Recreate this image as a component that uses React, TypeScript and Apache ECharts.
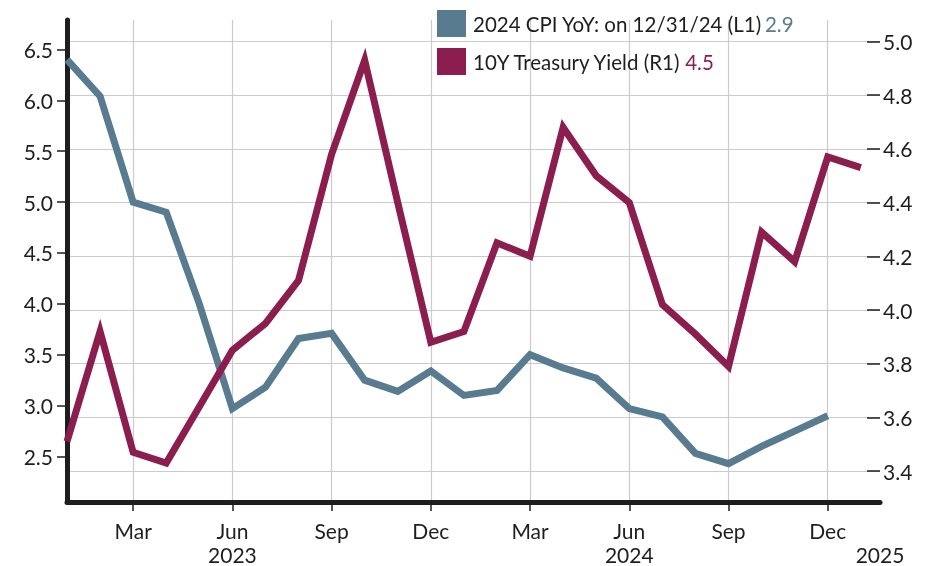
import React, { useEffect, useRef } from "react";
import * as echarts from "echarts";

// Month index 0 = Jan 2023
const cpiValues = [6.4, 6.04, 5.0, 4.9, 4.0, 2.97, 3.18, 3.66, 3.71, 3.25, 3.14, 3.34, 3.1, 3.15, 3.5, 3.37, 3.27, 2.97, 2.89, 2.53, 2.43, 2.6, 2.75, 2.9];
const tsyValues = [3.51, 3.92, 3.47, 3.43, 3.64, 3.85, 3.95, 4.11, 4.58, 4.93, 4.4, 3.88, 3.92, 4.25, 4.2, 4.68, 4.5, 4.4, 4.02, 3.91, 3.79, 4.29, 4.18, 4.57, 4.53];

const xTickMonths = [2, 5, 8, 11, 14, 17, 20, 23];
const xTickLabels = ["Mar", "Jun\n2023", "Sep", "Dec", "Mar", "Jun\n2024", "Sep", "Dec"];
const xEndLabel = "\n2025";
const X_MAX = 24.58;

const leftTicks = [2.5, 3.0, 3.5, 4.0, 4.5, 5.0, 5.5, 6.0, 6.5];
const rightTicks = [3.4, 3.6, 3.8, 4.0, 4.2, 4.4, 4.6, 4.8, 5.0];

const cpiName = "2024 CPI YoY: on 12/31/24 (L1)";
const tsyName = "10Y Treasury Yield (R1)";
const cpiLast = "2.9";
const tsyLast = "4.5";

const BLUE = "#587b8f";
const MAROON = "#8b1e4f";
const INK = "#1e1e1e";
const GRIDC = "#cbcbcb";
const FONT = "Lato";

export default function App() {
  const ref = useRef<HTMLDivElement>(null);
  useEffect(() => {
    if (!ref.current) return;
    const chart = echarts.init(ref.current, undefined, { renderer: "svg" });
    chart.setOption({
      animation: false,
      textStyle: { fontFamily: FONT },
      grid: { left: 67, right: 54, top: 20, bottom: 62, containLabel: false },
      legend: {
        orient: "vertical",
        left: 432,
        top: 5,
        itemGap: 11,
        itemWidth: 29,
        itemHeight: 27,
        icon: "rect",
        data: [cpiName, tsyName],
        formatter: (name: string) =>
          name === cpiName ? `{n|${name}} {b|${cpiLast}}` : `{n|${name}} {m|${tsyLast}}`,
        textStyle: {
          fontFamily: FONT,
          padding: [0, 0, 0, 2],
          rich: {
            n: { fontSize: 20.5, color: INK, fontFamily: FONT },
            b: { fontSize: 20.5, color: BLUE, fontFamily: FONT },
            m: { fontSize: 20.5, color: MAROON, fontFamily: FONT },
          },
        },
      },
      xAxis: {
        type: "value",
        min: 0,
        max: X_MAX,
        axisLine: { show: true, lineStyle: { color: INK, width: 5 } },
        axisTick: { show: true, length: 9, lineStyle: { color: INK, width: 1.5 }, customValues: xTickMonths },
        axisLabel: {
          customValues: [...xTickMonths, X_MAX],
          margin: 16,
          color: INK,
          fontSize: 21,
          lineHeight: 24,
          fontFamily: FONT,
          formatter: (v: number) => {
            const i = xTickMonths.findIndex((m) => Math.abs(m - v) < 0.01);
            if (i >= 0) return xTickLabels[i];
            return xEndLabel;
          },
        },
        splitLine: { show: true, lineStyle: { color: GRIDC, width: 1.2 } },
      },
      yAxis: [
        {
          type: "value",
          position: "left",
          min: 2.053,
          max: 6.789,
          axisLine: { show: true, lineStyle: { color: INK, width: 5 } },
          axisTick: { show: true, length: 10, lineStyle: { color: INK, width: 1.5 }, customValues: leftTicks },
          axisLabel: {
            customValues: leftTicks,
            margin: 14,
            color: INK,
            fontSize: 21,
            fontFamily: FONT,
            formatter: (v: number) => v.toFixed(1),
          },
          splitLine: { show: false },
        },
        {
          type: "value",
          position: "right",
          min: 3.285,
          max: 5.08,
          axisLine: { show: false },
          axisTick: { show: true, inside: true, length: 13, lineStyle: { color: INK, width: 1.5 }, customValues: rightTicks },
          axisLabel: {
            customValues: rightTicks,
            margin: 3,
            color: INK,
            fontSize: 21,
            fontFamily: FONT,
            formatter: (v: number) => v.toFixed(1),
          },
          splitLine: { show: true, lineStyle: { color: GRIDC, width: 1.2 } },
        },
      ],
      series: [
        {
          name: cpiName,
          type: "line",
          yAxisIndex: 0,
          data: cpiValues.map((v, i) => [i, v]),
          showSymbol: false,
          symbol: "none",
          color: BLUE,
          lineStyle: { width: 7, color: BLUE, join: "miter" },
          z: 2,
        },
        {
          name: tsyName,
          type: "line",
          yAxisIndex: 1,
          data: tsyValues.map((v, i) => [i, v]),
          showSymbol: false,
          symbol: "none",
          color: MAROON,
          lineStyle: { width: 7, color: MAROON, join: "miter" },
          z: 3,
        },
      ],
    });
    return () => chart.dispose();
  }, []);
  return <div ref={ref} style={{ position: "fixed", left: 0, top: 0, width: 934, height: 566 }} />;
}
